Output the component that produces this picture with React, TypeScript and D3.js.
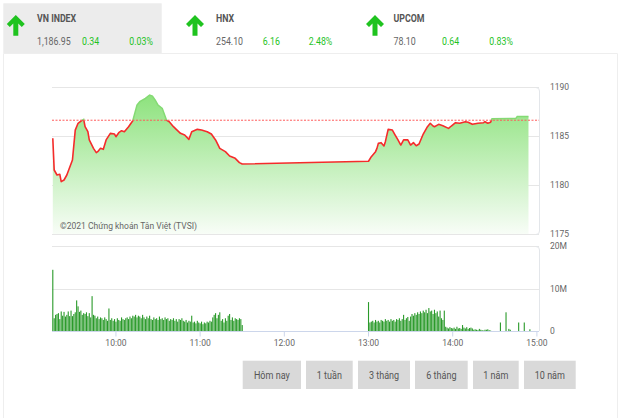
import React from "react";
import * as d3 from "d3";

// ---------- DATA ----------
const indexNames = ["VN INDEX", "HNX", "UPCOM"];
const indexValues = ["1,186.95", "254.10", "78.10"];
const indexChanges = ["0.34", "6.16", "0.64"];
const indexPercents = ["0.03%", "2.48%", "0.83%"];

const referencePrice = 1186.61;

const priceTimes = [
  "09:15", "09:16", "09:18", "09:20", "09:21", "09:23", "09:25", "09:29", "09:31", "09:33",
  "09:36", "09:37", "09:38", "09:40", "09:41", "09:44", "09:46", "09:47", "09:49", "09:51",
  "09:53", "09:56", "09:59", "10:00", "10:02", "10:04", "10:06", "10:09", "10:12", "10:15",
  "10:17", "10:21", "10:24", "10:26", "10:28", "10:30", "10:33", "10:36", "10:38", "10:41",
  "10:43", "10:46", "10:49", "10:52", "10:54", "10:58", "11:01", "11:05", "11:08", "11:11",
  "11:14", "11:18", "11:21", "11:25", "11:28", "11:30",
  "13:00", "13:02", "13:05", "13:06", "13:07", "13:09", "13:11", "13:12", "13:14", "13:17",
  "13:19", "13:21", "13:23", "13:25", "13:28", "13:30", "13:32", "13:34", "13:36", "13:39",
  "13:42", "13:44", "13:46", "13:47", "13:50", "13:53", "13:57", "13:59", "14:02", "14:05",
  "14:09", "14:11", "14:14", "14:18", "14:22", "14:23", "14:25", "14:27", "14:28", "14:45",
  "14:46", "14:54",
];
const priceValues = [
  1184.77, 1181.53, 1181.02, 1181.09, 1180.34, 1180.51, 1181.02, 1182.55, 1185.6, 1186.3,
  1186.63, 1186.7, 1185.95, 1185.44, 1184.6, 1183.74, 1183.3, 1183.4, 1183.74, 1183.64,
  1184.6, 1185.27, 1185.2, 1184.93, 1185.34, 1185.54, 1185.44, 1185.95, 1186.56, 1188.16,
  1188.5, 1188.84, 1189.18, 1189.08, 1188.67, 1188.16, 1187.82, 1186.63, 1186.46, 1185.95,
  1185.68, 1185.27, 1185.1, 1184.66, 1185.44, 1185.68, 1185.61, 1185.44, 1185.2, 1184.6,
  1183.74, 1183.4, 1182.96, 1182.72, 1182.28, 1182.14,
  1182.42, 1182.89, 1183.4, 1183.74, 1184.25, 1184.32, 1183.98, 1184.42, 1185.68, 1185.61,
  1185.1, 1184.6, 1184.08, 1184.6, 1184.6, 1184.08, 1184.32, 1184.01, 1184.18, 1185.2,
  1185.95, 1186.3, 1186.02, 1185.95, 1186.19, 1186.05, 1185.78, 1186.02, 1186.36, 1186.3,
  1186.46, 1186.4, 1186.19, 1186.3, 1186.36, 1186.46, 1186.3, 1186.4, 1186.75, 1186.8,
  1187.0, 1187.0,
];

// volumes in millions, one per minute
const morningStart = "09:15";
const morningVolumes = [
  14.4,
  3.0, 3.8, 4.0, 4.2, 2.8, 4.6, 3.6, 4.5, 3.4, 3.8, 4.6, 3.5,
  4.8, 3.5, 4.0, 4.4,
  7.2,
  5.8, 4.5, 4.8, 3.8, 4.2, 4.0, 4.4, 3.5, 4.2, 3.2,
  8.2,
  3.8, 3.6, 3.0, 3.4, 2.8, 3.2, 3.0, 2.6, 3.2, 2.8, 2.4,
  5.3,
  2.6, 3.0, 2.4, 2.8, 2.2, 3.0, 2.6, 2.4, 3.2, 2.8, 2.6, 3.0, 3.2, 2.8, 3.4, 3.0, 3.6, 3.4, 3.8, 3.2,
  3.6, 3.4, 3.0, 3.8, 3.2, 2.8, 3.4, 3.0, 3.6, 2.8, 2.6, 3.2, 2.8, 3.0, 2.6, 3.4, 2.8, 3.0, 2.6, 3.2,
  2.8, 3.0, 2.4, 2.8, 2.6, 3.0, 2.4, 2.8, 2.2, 2.8, 2.6, 3.0, 2.4, 2.2, 2.6, 2.0, 2.4, 2.2, 3.6, 2.0,
  2.2, 1.8, 2.4, 2.0, 1.8, 2.2, 1.6, 2.0, 1.8, 2.2, 2.0, 2.4, 2.2, 3.2, 3.8,
  4.2, 3.0, 3.8, 4.4, 2.4, 2.8, 2.0, 3.0, 2.4, 3.6, 4.0, 2.6, 3.2, 2.4, 3.0, 2.8, 2.6, 3.0, 2.8, 1.4,
];
const afternoonStart = "13:00";
const afternoonVolumes = [
  6.8,
  2.0, 2.2, 2.4, 2.0, 2.6, 2.2, 2.4, 2.0, 2.6, 2.4, 2.2, 2.8, 2.4, 2.6, 2.2,
  2.8, 2.4, 2.6, 2.2, 2.8, 2.6, 3.0, 2.4, 2.8, 3.8, 2.6, 3.0, 3.3, 2.4, 3.4,
  4.0, 3.6, 4.2, 3.8, 4.4, 4.0, 4.6, 4.2, 4.8, 4.4, 5.0, 4.2, 5.4, 4.6, 4.8,
  4.0, 5.0, 4.2, 4.6, 3.4, 4.8, 3.0, 2.6, 4.8, 1.0, 0.8, 0.6, 0.9, 0.7,
  0.6, 0.8, 0.5, 1.0, 0.6, 0.7, 0.5, 1.4, 0.8, 0.6, 0.9, 0.5, 0.7, 0.8, 0.6, 0.3, 0.4, 0.3, 0.2, 0.5,
  0.3, 0.2, 0.1, 0.3, 0.3, 0.4, 0.2, 0.1,
  0, 0, 0, 0, 0, 0, 2.0, 0, 0, 0, 4.4, 0, 0.5, 0.3, 0, 0, 0, 0, 0, 2.0, 0, 0, 0, 2.0, 0, 0, 0, 0.4,
];

const priceTicks = [1175, 1180, 1185, 1190];
const volumeTicks = [0, 10, 20];
const volumeTickLabels = ["0", "10M", "20M"];
const timeTicks = ["10:00", "11:00", "12:00", "13:00", "14:00", "15:00"];
const rangeLabels = ["Hôm nay", "1 tuần", "3 tháng", "6 tháng", "1 năm", "10 năm"];
const copyright = "©2021 Chứng khoán Tân Việt (TVSI)";

// ---------- HELPERS ----------
const toMin = (t: string) => {
  const [h, m] = t.split(":").map(Number);
  return h * 60 + m;
};

const FONT = "Roboto, 'Noto Sans', sans-serif";

function CText(props: {
  x: number; y: number; text: string; size: number; fill: string;
  weight?: number; anchor?: string; sx?: number;
}) {
  const { x, y, text, size, fill, weight = 400, anchor = "start", sx = 1 } = props;
  return (
    <text
      transform={`translate(${x},${y}) scale(${sx},1)`}
      fontFamily={FONT}
      fontSize={size}
      fontWeight={weight}
      fill={fill}
      textAnchor={anchor as any}
    >
      {text}
    </text>
  );
}

export default function App() {
  const W = 621, H = 418;
  const plotL = 52, plotR = 539;
  const pTop = 87, pBot = 234;
  const vTop = 246, vBot = 331;

  const x = d3.scaleLinear().domain([toMin("09:15"), toMin("15:00")]).range([52.8, 536.9]);
  const yP = d3.scaleLinear().domain([1175, 1190]).range([pBot, pTop]);
  const yV = d3.scaleLinear().domain([0, 20]).range([vBot, vTop]);

  const pts = priceTimes.map((t, i) => ({ t: toMin(t), v: priceValues[i] }));
  const lineGen = d3.line<{ t: number; v: number }>().x((d) => x(d.t)).y((d) => yP(d.v));
  const areaGen = d3
    .area<{ t: number; v: number }>()
    .x((d) => x(d.t))
    .y0(pBot)
    .y1((d) => yP(d.v));
  const refY = yP(referencePrice);

  const bars: { t: number; v: number }[] = [];
  morningVolumes.forEach((v, i) => bars.push({ t: toMin(morningStart) + i, v }));
  afternoonVolumes.forEach((v, i) => bars.push({ t: toMin(afternoonStart) + i, v }));

  const green = "#1fc31f";
  const arrowXs = [15.8, 195, 375];
  const nameXs = [37, 216, 393.5];
  const changeXs = [82, 262.7, 442];
  const pctXs = [129.3, 308.7, 489.3];

  const arrowPath = (cx: number) =>
    `M${cx},15 L${cx + 9},24 L${cx + 6},27 L${cx + 2.5},23.5 L${cx + 2.5},35.7 L${cx - 2.5},35.7 L${cx - 2.5},23.5 L${cx - 6},27 L${cx - 9},24 Z`;

  const btnX = [242.7, 306, 358, 415, 473, 524];
  const btnW = [58.3, 46.7, 52, 52.7, 45.7, 51.7];

  const grid = "#e6e6e6";

  return (
    <div style={{ position: "fixed", left: 0, top: 0 }}>
      <svg width={W} height={H} viewBox={`0 0 ${W} ${H}`} style={{ display: "block", background: "#fff" }}>
        <defs>
          <linearGradient id="areaGrad" x1="0" y1="0" x2="0" y2="1">
            <stop offset="0%" stopColor="#8de27d" />
            <stop offset="100%" stopColor="#f8fdf7" />
          </linearGradient>
          <clipPath id="above">
            <rect x={0} y={0} width={W} height={refY} />
          </clipPath>
          <clipPath id="below">
            <rect x={0} y={refY} width={W} height={H - refY} />
          </clipPath>
        </defs>

        {/* header */}
        <rect x={3.3} y={3.3} width={158.4} height={50} fill="#ececec" />
        {indexNames.map((n, i) => (
          <g key={n}>
            <path d={arrowPath(arrowXs[i])} fill={green} />
            <CText x={nameXs[i]} y={21.7} text={n} size={11} weight={700} fill="#555" sx={0.8} />
            <CText x={nameXs[i]} y={45} text={indexValues[i]} size={11} fill="#666" sx={0.8} />
            <CText x={changeXs[i]} y={45} text={indexChanges[i]} size={11} fill={green} sx={0.8} />
            <CText x={pctXs[i]} y={45} text={indexPercents[i]} size={11} fill={green} sx={0.8} />
          </g>
        ))}

        {/* panel border */}
        <path d={`M3.5,${H} L3.5,53.5 L617.5,53.5 L617.5,${H}`} fill="none" stroke="#eeeeee" strokeWidth={1} />

        {/* price grid */}
        {priceTicks.map((t) => (
          <line key={t} x1={plotL} x2={plotR} y1={Math.round(yP(t)) + 0.5} y2={Math.round(yP(t)) + 0.5} stroke={grid} />
        ))}
        <path
          d={`M${plotR - 3},${pTop + 0.5} Q${plotR + 0.5},${pTop + 0.5} ${plotR + 0.5},${pTop + 4} L${plotR + 0.5},${pBot - 3} Q${plotR + 0.5},${pBot + 0.5} ${plotR - 3},${pBot + 0.5}`}
          fill="none"
          stroke="#e3e6ea"
        />

        {/* area & line */}
        <path d={areaGen(pts) || ""} fill="url(#areaGrad)" />
        <path d={lineGen(pts) || ""} fill="none" stroke="#84da74" strokeWidth={1.5} clipPath="url(#above)" />
        <path d={lineGen(pts) || ""} fill="none" stroke="#f52b2b" strokeWidth={1.6} clipPath="url(#below)" strokeLinejoin="round" />
        <line x1={plotL} x2={plotR} y1={refY} y2={refY} stroke="#ff5a5a" strokeWidth={1} strokeDasharray="2,1.5" />

        <text x={60} y={228.5} fontFamily={FONT} fontSize={8.5} fill="#666" textLength={137} lengthAdjust="spacingAndGlyphs">
          {copyright}
        </text>

        {priceTicks.map((t) => (
          <CText key={t} x={550} y={yP(t) + 3} text={String(t)} size={8.5} fill="#666" />
        ))}

        {/* volume grid */}
        {volumeTicks.slice(1).map((t) => (
          <line key={t} x1={plotL} x2={plotR} y1={Math.round(yV(t)) + 0.5} y2={Math.round(yV(t)) + 0.5} stroke={grid} />
        ))}
        <path
          d={`M${plotR - 3},${vTop + 0.5} Q${plotR + 0.5},${vTop + 0.5} ${plotR + 0.5},${vTop + 4} L${plotR + 0.5},${vBot}`}
          fill="none"
          stroke="#e3e6ea"
        />
        {bars
          .filter((b) => b.v > 0)
          .map((b, i) => (
            <rect key={i} x={x(b.t) - 0.55} y={yV(b.v)} width={1.1} height={vBot - yV(b.v)} fill="#2a9a2a" />
          ))}
        <line x1={plotL} x2={plotR} y1={vBot + 0.5} y2={vBot + 0.5} stroke="#ccd6eb" />
        {timeTicks.map((t) => (
          <g key={t}>
            <line x1={x(toMin(t))} x2={x(toMin(t))} y1={vBot + 0.5} y2={vBot + 5.5} stroke="#ccd6eb" />
            <CText x={x(toMin(t))} y={346} text={t} size={8.5} fill="#666" anchor="middle" />
          </g>
        ))}
        {volumeTicks.map((t, i) => (
          <CText key={t} x={550} y={yV(t) + 3.3} text={volumeTickLabels[i]} size={8.5} fill="#666" />
        ))}

        {/* range buttons */}
        {rangeLabels.map((l, i) => (
          <g key={l}>
            <rect x={btnX[i]} y={360.7} width={btnW[i]} height={28.3} fill="#d9d9d9" />
            <CText x={btnX[i] + btnW[i] / 2} y={379} text={l} size={10.5} fill="#555" anchor="middle" sx={0.86} />
          </g>
        ))}
      </svg>
    </div>
  );
}
